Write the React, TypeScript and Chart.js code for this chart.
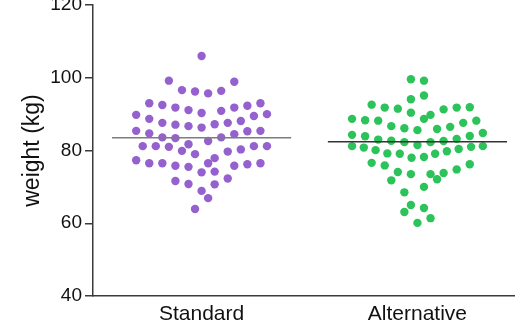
import React, { useEffect, useRef } from "react";
import { Chart, registerables } from "chart.js";

Chart.register(...registerables);

const categories = ["Standard", "Alternative"];
const yTicks = [40, 60, 80, 100, 120];

const standardWeights = [
  106.0,
  99.2, 98.9,
  96.6, 96.2, 95.7, 96.4,
  93.0, 92.5, 91.8, 91.1, 90.3, 90.9, 91.8, 92.3, 93.0,
  89.8, 88.7, 87.6, 87.1, 86.7, 86.3, 87.2, 87.6, 88.1, 89.5, 90.0,
  85.4, 84.7, 83.6, 83.4, 81.7, 82.6, 83.6, 84.5, 85.3, 85.4,
  81.2, 81.2, 81.0, 79.9, 79.0, 77.9, 79.7, 80.3, 81.2, 81.2,
  77.3, 76.5, 76.5, 75.8, 75.5, 76.5, 74.0, 74.2, 75.8, 76.2, 76.5,
  71.6, 70.8, 68.9, 70.7, 72.3,
  66.9, 63.9,
];
const standardLanes = [
  0,
  -5, 5,
  -3, -1, 1, 3,
  -8, -6, -4, -2, 0, 3, 5, 7, 9,
  -10, -8, -6, -4, -2, 0, 2, 4, 6, 8, 10,
  -10, -8, -6, -4, -2, 1, 3, 5, 7, 9,
  -9, -7, -5, -3, -1, 2, 4, 6, 8, 10,
  -10, -8, -6, -4, -2, 1, 0, 2, 5, 7, 9,
  -4, -2, 0, 2, 4,
  1, -1,
];

const alternativeWeights = [
  99.6, 99.2, 94.1, 95.1,
  92.6, 91.8, 91.5, 90.4, 88.7, 89.8, 91.3, 91.8, 91.9,
  88.7, 88.3, 88.2, 86.7, 86.1, 85.6, 85.9, 86.5, 87.6, 88.2,
  84.3, 83.9, 83.0, 82.7, 82.3, 81.5, 82.3, 82.6, 83.2, 84.0, 84.8,
  81.2, 80.8, 80.1, 79.2, 79.1, 78.0, 78.2, 79.1, 79.8, 80.4, 81.0, 81.2,
  76.6, 75.9, 74.1, 73.5, 73.5, 72.1, 73.8, 74.8, 76.2,
  71.8, 70.0, 68.5, 65.0, 64.2, 63.1, 61.4, 60.1,
];
const alternativeLanes = [
  -1, 1, -1, 1,
  -7, -5, -3, -1, 1, 2, 4, 6, 8,
  -10, -8, -6, -4, -2, 0, 3, 5, 7, 9,
  -10, -8, -6, -4, -2, 0, 2, 4, 6, 8, 10,
  -10, -8.2, -6.4, -4.6, -2.7, -0.9, 1, 2.7, 4.5, 6.3, 8.2, 10,
  -7, -5, -3, -1, 2, 3, 4, 6, 8,
  -4, 1, -2, -1, 1, -2, 2, 0,
];

const groupMeans = [83.5, 82.4];

const LANE_WIDTH = 0.0303;
const MEAN_HALF_WIDTH = 0.415;
const FONT = "'Liberation Sans', Arial, Helvetica, sans-serif";

function swarm(groupIndex: number, weights: number[], lanes: number[]) {
  const center = groupIndex + 1;
  return weights.map((w, i) => ({ x: center + lanes[i] * LANE_WIDTH, y: w }));
}

function meanLine(groupIndex: number) {
  const center = groupIndex + 1;
  return [
    { x: center - MEAN_HALF_WIDTH, y: groupMeans[groupIndex] },
    { x: center + MEAN_HALF_WIDTH, y: groupMeans[groupIndex] },
  ];
}

export default function App() {
  const canvasRef = useRef<HTMLCanvasElement | null>(null);

  useEffect(() => {
    const canvas = canvasRef.current;
    if (!canvas) return;
    const chart = new Chart(canvas, {
      type: "scatter",
      data: {
        datasets: [
          {
            data: meanLine(0),
            showLine: true,
            borderColor: "#7d7d7d",
            borderWidth: 1.5,
            pointRadius: 0,
            order: 0,
          },
          {
            data: meanLine(1),
            showLine: true,
            borderColor: "#333333",
            borderWidth: 1.5,
            pointRadius: 0,
            order: 0,
          },
          {
            data: swarm(0, standardWeights, standardLanes),
            backgroundColor: "#9461cf",
            borderWidth: 0,
            pointRadius: 4.2,
            order: 1,
          },
          {
            data: swarm(1, alternativeWeights, alternativeLanes),
            backgroundColor: "#2cc35a",
            borderWidth: 0,
            pointRadius: 4.2,
            order: 1,
          },
        ],
      },
      options: {
        animation: false,
        responsive: false,
        devicePixelRatio: 1,
        layout: { padding: { top: 25, left: 0, right: 0, bottom: 0 } },
        plugins: { legend: { display: false }, tooltip: { enabled: false } },
        scales: {
          x: {
            type: "linear",
            min: 0.497,
            max: 2.451,
            grid: { display: false },
            border: { display: true, color: "#3a3a3a", width: 1.5 },
            afterBuildTicks: (scale: any) => {
              scale.ticks = categories.map((_, i) => ({ value: i + 1 }));
            },
            afterFit: (scale: any) => {
              scale.height = 44;
            },
            ticks: {
              padding: 0,
              color: "#111",
              font: { family: FONT, size: 21, lineHeight: 1.0 },
              callback: (v: any) => categories[Math.round(Number(v)) - 1] ?? "",
            },
          },
          y: {
            type: "linear",
            min: yTicks[0],
            max: yTicks[yTicks.length - 1],
            afterBuildTicks: (scale: any) => {
              scale.ticks = yTicks.map((v) => ({ value: v }));
            },
            afterFit: (scale: any) => {
              scale.width = 93;
            },
            grid: {
              display: true,
              drawOnChartArea: false,
              drawTicks: true,
              tickLength: 8,
              color: "#3a3a3a",
              lineWidth: 1.5,
            },
            border: { display: true, color: "#3a3a3a", width: 1.5 },
            ticks: {
              padding: 3,
              color: "#111",
              font: { family: FONT, size: 19 },
            },
            title: {
              display: true,
              text: "weight (kg)",
              color: "#111",
              font: { family: FONT, size: 23, lineHeight: 1.2 },
              padding: { top: 19, bottom: 0 },
            },
          },
        },
      },
    } as any);
    return () => chart.destroy();
  }, []);

  return (
    <div
      style={{
        position: "fixed",
        left: 0,
        top: 0,
        width: 519,
        height: 322,
        overflow: "hidden",
        background: "#fff",
      }}
    >
      <canvas
        ref={canvasRef}
        width={519}
        height={360}
        style={{ position: "absolute", left: 0, top: -20, width: 519, height: 360 }}
      />
    </div>
  );
}
